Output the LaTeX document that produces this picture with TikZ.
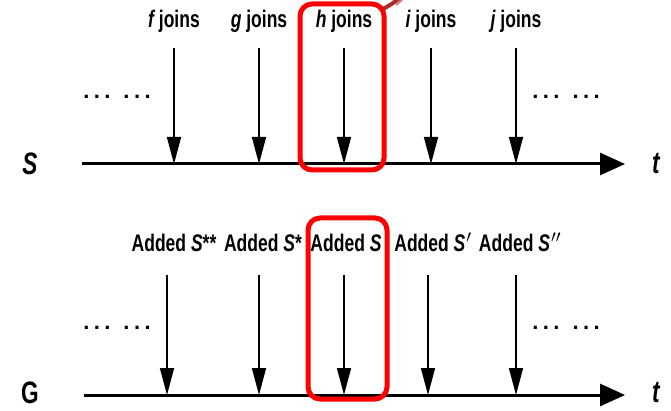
\documentclass[tikz,border=0pt]{standalone}
\usepackage{fontspec}
\setmainfont{Liberation Sans}[FakeStretch=0.73,UprightFont=*-Bold,ItalicFont=*-Bold Italic]
\newfontfamily\dotfont{Liberation Sans Bold}
\usetikzlibrary{arrows.meta}
\definecolor{hl}{HTML}{FF0000}
\definecolor{curl}{HTML}{B02A2A}
% two groups of three dots
\newcommand{\dotgroups}{.\kern4.4pt.\kern4.4pt.\kern13pt.\kern4.4pt.\kern4.4pt.}
\begin{document}
\begin{tikzpicture}[x=1pt,y=-1pt,
  axis/.style={line width=3pt,-{Triangle[length=25pt,width=22pt]}},
  event/.style={line width=1.6pt,-{Triangle[length=27pt,width=14pt]}},
  lbl/.style={font=\fontsize{24}{26}\selectfont,inner sep=0pt,anchor=base},
  side/.style={font=\fontsize{31}{33}\selectfont,inner sep=0pt},
  dots/.style={font=\dotfont\fontsize{22}{24}\selectfont,inner sep=0pt,anchor=base},
  focus/.style={draw=hl,line width=5pt,rounded corners=12pt}]
\useasboundingbox[fill=white] (0,0) rectangle (671,411);

% top timeline: members joining S
\coordinate (s0) at (82,164);
\coordinate (s1) at (625,164);
\draw[axis] (s0) -- (s1);
\node[side] (sl) at (30,164) {\itshape S};
\node[side] (st) at (656,164) {\itshape t};
\foreach \x/\n in {174/f,259/g,344/h,431/i,516/j}{
  \node[lbl] (j\n) at (\x,28) {\itshape \n\upshape\ joins};
  \coordinate (ja\n) at (\x,48);
  \coordinate (jb\n) at (\x,164);
  \draw[event] (ja\n) -- (jb\n);
}
\node[dots] (sdl) at (117,99) {\dotgroups};
\node[dots] (sdr) at (566,99) {\dotgroups};
\draw[focus] (300,4) rectangle (384,170);

% bottom timeline: structures added to G
\coordinate (g0) at (84,395);
\coordinate (g1) at (625,395);
\draw[axis] (g0) -- (g1);
\node[side] (gl) at (30,393) {G};
\node[side] (gt) at (656,393) {\itshape t};
\foreach \x/\n in {167/a,259/b,344/c,428/d,516/e}{
  \coordinate (aa\n) at (\x,275);
  \coordinate (ab\n) at (\x,395);
  \draw[event] (aa\n) -- (ab\n);
}
\node[lbl] (ada) at (174,252) {Added \itshape S\upshape**};
\node[lbl] (adb) at (263,252) {Added \itshape S\upshape*};
\node[lbl] (adc) at (346,252) {Added \itshape S};
\node[lbl] (add) at (433,252) {Added \itshape S\upshape\kern1pt$'$};
\node[lbl] (ade) at (520,252) {Added \itshape S\upshape\kern1pt$''$};
\node[dots] (gdl) at (117,329) {\dotgroups};
\node[dots] (gdr) at (566,329) {\dotgroups};
\draw[focus] (308,218) rectangle (387,399);

% tail of a curved pointer leaving the upper box
\begin{scope}
\clip (0,0) rectangle (671,411);
\draw[curl,line width=4pt] (383,9) .. controls (389,6) and (395,2) .. (402,-4);
\draw[curl!70,line width=1.5pt] (396,5) .. controls (399,3) and (402,0) .. (406,-4);
\end{scope}
\end{tikzpicture}
\end{document}
